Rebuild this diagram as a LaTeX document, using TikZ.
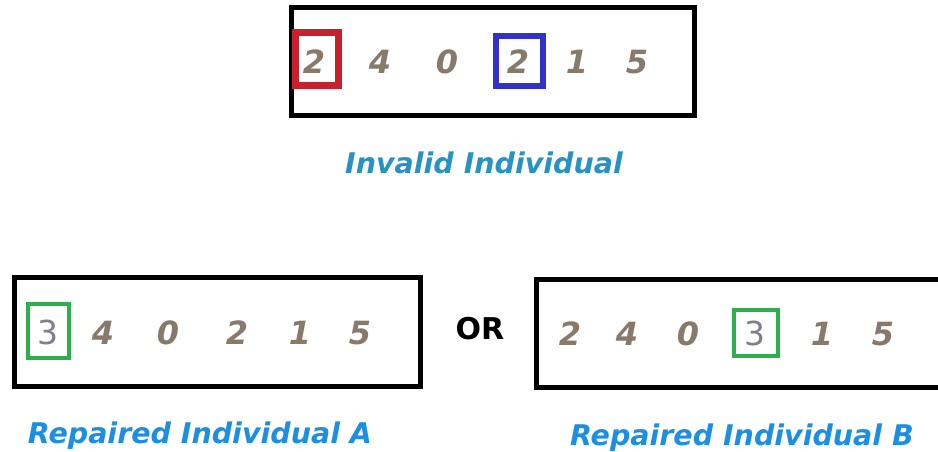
\documentclass[tikz,border=0pt]{standalone}
\usepackage{fontspec}
\setsansfont{DejaVu Sans}
\usetikzlibrary{positioning}

\definecolor{genecol}{RGB}{135,122,106}
\definecolor{fixcol}{RGB}{128,126,142}
\definecolor{redmark}{RGB}{200,32,45}
\definecolor{bluemark}{RGB}{50,50,200}
\definecolor{greenmark}{RGB}{45,176,75}
\definecolor{titlecol}{RGB}{40,146,196}
\definecolor{repcol}{RGB}{28,143,227}

\tikzset{
    gene/.style={anchor=base, text=genecol, font=\sffamily\bfseries\itshape\fontsize{32}{32}\selectfont},
    fixed/.style={anchor=base, text=fixcol, font=\sffamily\fontsize{33}{33}\selectfont},
    chrom/.style={draw=black, line width=4.5pt},
    mark/.style={line width=#1},
    caption/.style={anchor=base, font=\sffamily\bfseries\itshape\fontsize{28.5}{28.5}\selectfont}
}

\begin{document}
\begin{tikzpicture}[x=1pt,y=-1pt]

    \useasboundingbox (0,0) rectangle (938,452);

    % Chromosome frames.
    \draw[chrom] (291.5,7.5) rectangle (694.5,115.5);
    \draw[chrom] (14.5,277.5) rectangle (420.5,386.5);
    \draw[chrom] (536.5,279.5) rectangle (950,387.5);

    % Genes of the invalid individual.
    \foreach \g/\x [count=\i] in {2/314,4/380,0/447,2/518,1/577,5/637}
        \node[gene] (top\i) at (\x,74) {\g};

    % Genes of repaired individual A.
    \node[fixed] (a1) at (48,344) {3};
    \foreach \g/\x [count=\i from 2] in {4/103,0/168,2/237,1/300,5/360}
        \node[gene] (a\i) at (\x,344) {\g};

    % Genes of repaired individual B.
    \foreach \g/\x [count=\i] in {2/570,4/627,0/688}
        \node[gene] (b\i) at (\x,345) {\g};
    \node[fixed] (b4) at (755,345) {3};
    \foreach \g/\x [count=\i from 5] in {1/822,5/883}
        \node[gene] (b\i) at (\x,345) {\g};

    % Duplicate and replaced genes.
    \draw[mark=7pt, redmark] (295.5,32.5) rectangle (338.5,85.5);
    \draw[mark=6pt, bluemark] (496,36) rectangle (543,86);
    \draw[mark=4pt, greenmark] (28,304) rectangle (69,358);
    \draw[mark=4pt, greenmark] (734,310) rectangle (778,356);

    % Captions.
    \node[caption, text=titlecol] (invalid) at (484,173) {Invalid Individual};
    \node[caption, text=repcol] (repA) at (200,443) {Repaired Individual A};
    \node[caption, text=repcol] (repB) at (742,445) {Repaired Individual B};
    \node[anchor=base, font=\sffamily\bfseries\fontsize{30}{30}\selectfont] (or) at (480,339) {OR};

\end{tikzpicture}
\end{document}
